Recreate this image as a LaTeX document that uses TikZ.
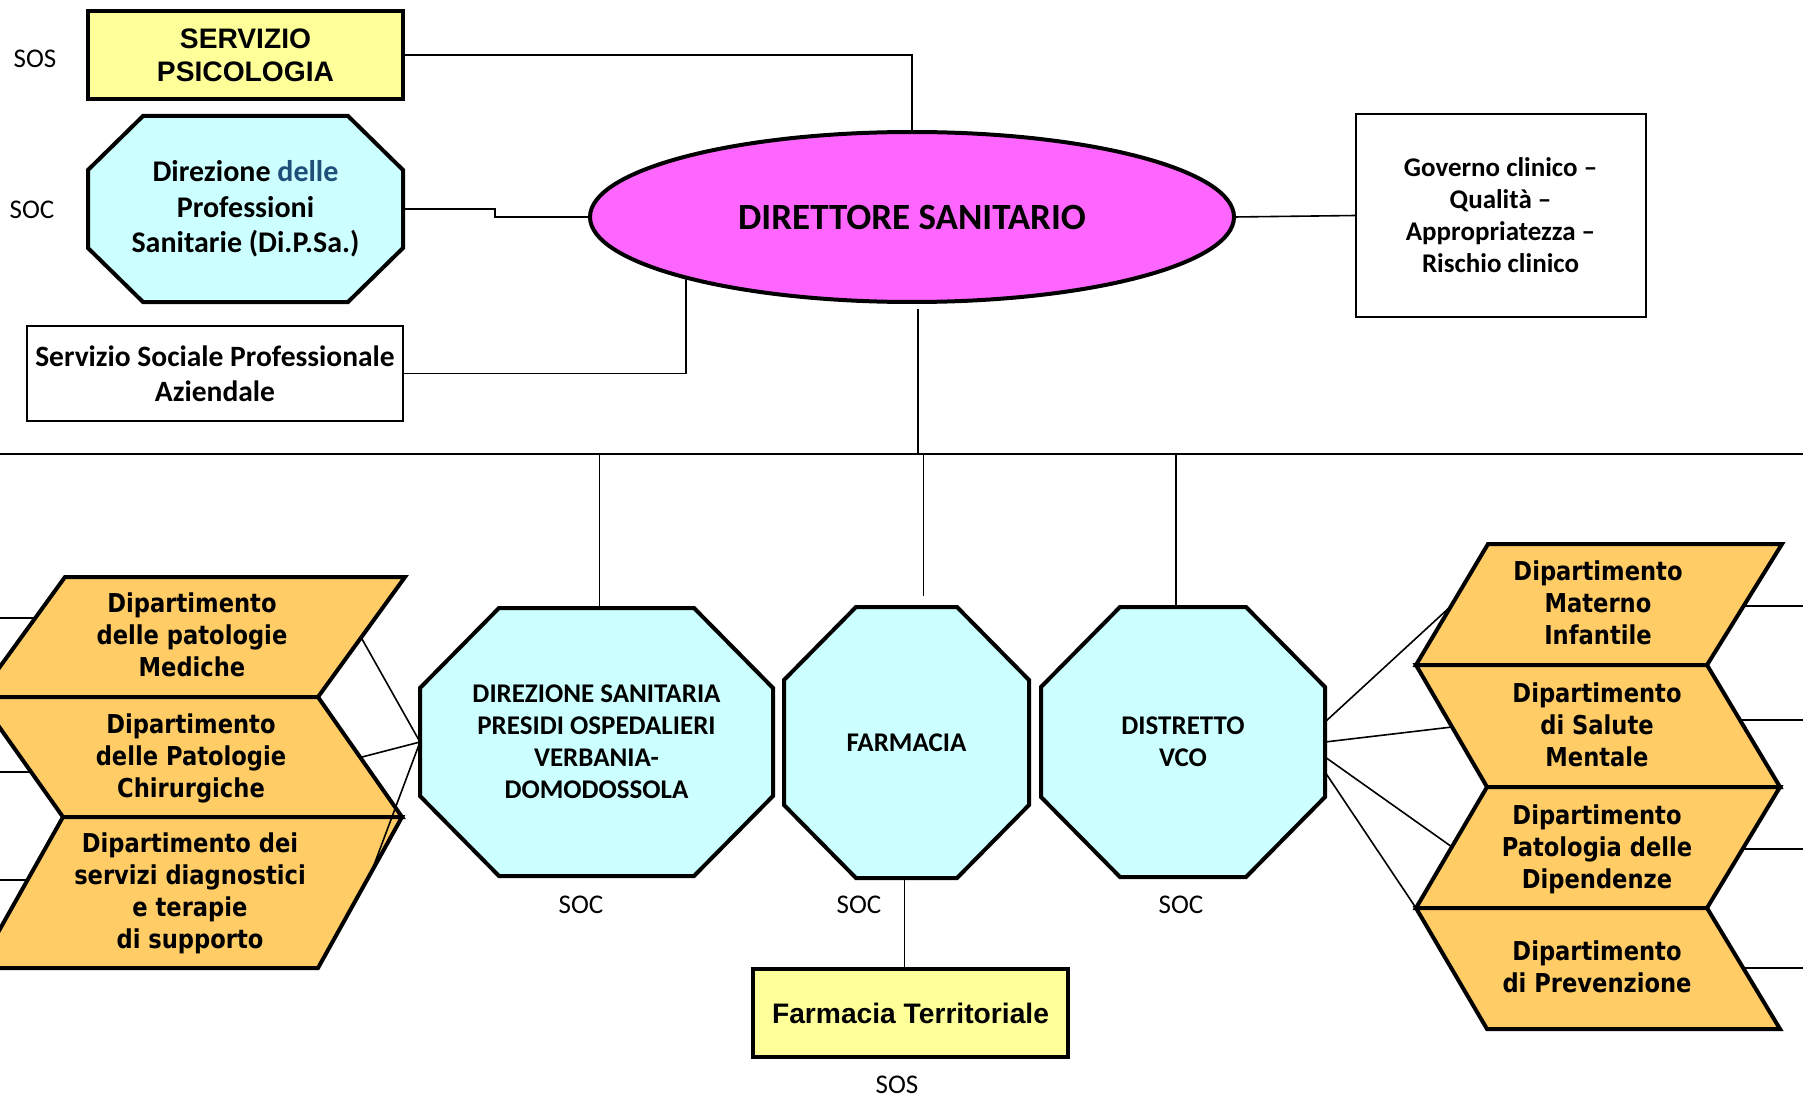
\documentclass[tikz,border=0pt]{standalone}
\usepackage{fontspec}
\setmainfont{Carlito}
\newfontfamily\arialf{Liberation Sans}
\newfontfamily\lucf{DejaVu Sans}[FakeStretch=0.87]
\usetikzlibrary{shapes.geometric}
\pgfdeclarelayer{background}
\pgfsetlayers{background,main}
\definecolor{octfill}{HTML}{CCFFFF}
\definecolor{chevfill}{HTML}{FFCC66}
\definecolor{elfill}{HTML}{FF66FF}
\definecolor{yelfill}{HTML}{FFFF99}
\definecolor{dblue}{HTML}{1F4E79}
\tikzset{
  every node/.style={inner sep=0pt, outer sep=0pt},
  octa/.style={draw=black, line width=4pt, fill=octfill, line join=miter},
  chev/.style={draw=black, line width=4pt, fill=chevfill, line join=miter},
  octtext/.style={align=center, font=\bfseries\fontsize{27}{32}\selectfont},
  chevtext/.style={align=center, font=\lucf\bfseries\fontsize{26}{32}\selectfont},
  lbl/.style={font=\fontsize{27}{30}\selectfont},
  conn/.style={draw=black, line width=1.6pt},
  yelbox/.style={draw=black, line width=4pt, fill=yelfill, align=center, font=\arialf\bfseries\fontsize{28.2}{33}\selectfont},
  wbox/.style={draw=black, line width=2pt, fill=white, align=center},
}
\newcommand{\octdraw}[3]{%
  \begin{pgfonlayer}{background}
  \draw[octa] ([xshift=#2]#1.north west) -- ([xshift=-#2]#1.north east) -- ([yshift=-#3]#1.north east)
   -- ([yshift=#3]#1.south east) -- ([xshift=-#2]#1.south east) -- ([xshift=#2]#1.south west)
   -- ([yshift=#3]#1.south west) -- ([yshift=-#3]#1.north west) -- cycle;
  \end{pgfonlayer}}
\begin{document}
\begin{tikzpicture}[x=1pt,y=-1pt]
\useasboundingbox (0,0) rectangle (1803,1099);
\begin{pgfonlayer}{background}
\fill[white] (0,0) rectangle (1803,1099);
\end{pgfonlayer}
\clip (0,0) rectangle (1803,1099);

% top-left column
\node[yelbox, minimum width=315pt, minimum height=88pt] (psi) at (245.5,55) {SERVIZIO\\PSICOLOGIA};
\node[octtext, font=\bfseries\fontsize{30}{35.5}\selectfont, minimum width=315pt, minimum height=186pt] (dipsa) at (245.5,209)
  {Direzione {\color{dblue}delle}\\Professioni\\Sanitarie (Di.P.Sa.)};
\octdraw{dipsa}{55pt}{54pt}
\node[wbox, font=\bfseries\fontsize{29.5}{35}\selectfont, minimum width=376pt, minimum height=95pt] (ssp) at (215,373.5)
  {Servizio Sociale Professionale\\Aziendale};
\node[lbl] (sos1) at (35,59) {SOS};
\node[lbl] (soc1) at (32,210) {SOC};

% director and staff
\node[ellipse, draw=black, line width=4pt, fill=elfill, minimum width=644pt, minimum height=170pt,
  font=\bfseries\fontsize{37}{44}\selectfont] (dirt) at (912,217) {DIRETTORE SANITARIO};
\node[wbox, font=\bfseries\fontsize{27}{32}\selectfont, minimum width=290pt, minimum height=202pt] (gov) at (1500.5,215.5)
  {Governo clinico --\\Qualità --\\Appropriatezza --\\Rischio clinico};

% bottom octagons
\node[octtext, minimum width=353pt, minimum height=268pt] (dir) at (596.5,742)
  {DIREZIONE SANITARIA\\PRESIDI OSPEDALIERI\\VERBANIA-\\DOMODOSSOLA};
\octdraw{dir}{79pt}{80pt}
\node[octtext, minimum width=245pt, minimum height=271pt] (farm) at (906.5,742.5) {FARMACIA};
\octdraw{farm}{72pt}{73pt}
\node[octtext, minimum width=284pt, minimum height=270pt] (distr) at (1183,742) {DISTRETTO\\VCO};
\octdraw{distr}{79pt}{80pt}
\node[lbl] (soc2) at (581,905) {SOC};
\node[lbl] (soc3) at (859,905) {SOC};
\node[lbl] (soc4) at (1181,905) {SOC};
\node[yelbox, minimum width=315pt, minimum height=88pt] (ft) at (910.5,1013) {Farmacia Territoriale};
\node[lbl] (sos2) at (897,1085) {SOS};

% left departments
\draw[chev] (65,577) -- (405,577) -- (318,697) -- (-22,697) -- cycle;
\draw[chev] (-22,697) -- (318,697) -- (402,817) -- (63,817) -- cycle;
\draw[chev] (63,817) -- (402,817) -- (318,968) -- (-22,968) -- cycle;
\node[chevtext] (l1) at (192,635) {Dipartimento\\delle patologie\\Mediche};
\node[chevtext] (l2) at (191,758) {Dipartimento\\delle Patologie\\Chirurgiche};
\node[chevtext] (l3) at (190,893) {Dipartimento dei\\servizi diagnostici\\e terapie\\di supporto};

% right departments
\draw[chev] (1488,544) -- (1782,544) -- (1707,665) -- (1416,665) -- cycle;
\draw[chev] (1416,665) -- (1707,665) -- (1780,787) -- (1487,787) -- cycle;
\draw[chev] (1487,787) -- (1780,787) -- (1707,908) -- (1416,908) -- cycle;
\draw[chev] (1416,908) -- (1707,908) -- (1780,1029) -- (1487,1029) -- cycle;
\node[chevtext] (r1) at (1598,603) {Dipartimento\\Materno\\Infantile};
\node[chevtext] (r2) at (1597,725) {Dipartimento\\di Salute\\Mentale};
\node[chevtext] (r3) at (1597,849) {Dipartimento\\Patologia delle\\Dipendenze};
\node[chevtext] (r4) at (1597,967) {Dipartimento\\di Prevenzione};

% connector end points
\coordinate (busc) at (918,454);
\coordinate (busL) at (0,454);
\coordinate (busR) at (1803,454);
\coordinate (lc1) at (362,639);
\coordinate (lc2) at (362,757);
\coordinate (lc3) at (371,873);
\coordinate (ls1) at (35,618);
\coordinate (ls2) at (31,772);
\coordinate (ls3) at (28,880);
\coordinate (rc1) at (1450,607);
\coordinate (rc2) at (1452,727);
\coordinate (rc3) at (1452,847);
\coordinate (rc4) at (1416,908);
\coordinate (rs1) at (1744,606);
\coordinate (rs2) at (1742,720);
\coordinate (rs3) at (1742,849);
\coordinate (rs4) at (1744,968);

% connectors
\draw[conn] (psi.east) -| (dirt.north);
\draw[conn] (dipsa.east) -- ++(92,0) |- (dirt.west);
\draw[conn] (ssp.east) -| (dirt.195);
\draw[conn] (dirt.east) -- (gov.west);
\draw[conn] ([xshift=6pt,yshift=-7pt]dirt.south) -- (busc);
\draw[conn] (busL) -- (busR);
\draw[conn] ([xshift=3pt]dir.north |- busc) -- ([xshift=3pt]dir.north);
\draw[conn] ([xshift=17pt]farm.north |- busc) -- ([xshift=17pt,yshift=11pt]farm.north);
\draw[conn] ([xshift=-7pt]distr.north |- busc) -- ([xshift=-7pt]distr.north);
\draw[conn] ([xshift=-2pt]farm.south) -- ([xshift=-2pt]farm.south |- ft.north);
\draw[conn] (dir.west) -- (lc1);
\draw[conn] (dir.west) -- (lc2);
\draw[conn] (dir.west) -- (lc3);
\draw[conn] (0,618) -- (ls1);
\draw[conn] (0,772) -- (ls2);
\draw[conn] (0,880) -- (ls3);
\draw[conn] ([yshift=20pt]distr.east) -- (rc1);
\draw[conn] (distr.east) -- (rc2);
\draw[conn] ([yshift=-15pt]distr.east) -- (rc3);
\draw[conn] ([yshift=-30pt]distr.east) -- (rc4);
\draw[conn] (rs1) -- (1803,606);
\draw[conn] (rs2) -- (1803,720);
\draw[conn] (rs3) -- (1803,849);
\draw[conn] (rs4) -- (1803,968);
\end{tikzpicture}
\end{document}
